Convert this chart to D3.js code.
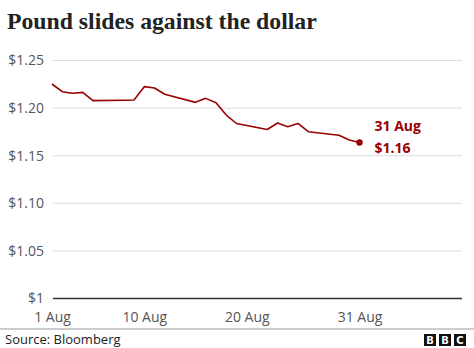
<!DOCTYPE html>
<html><head><meta charset="utf-8">
<script src="https://cdn.jsdelivr.net/npm/d3@7"></script>
<style>body{margin:0;background:#fff}svg{display:block}</style>
</head><body>
<script>
const title = "Pound slides against the dollar";
const dates = ["2022-08-01","2022-08-02","2022-08-03","2022-08-04","2022-08-05","2022-08-08","2022-08-09","2022-08-10","2022-08-11","2022-08-12","2022-08-15","2022-08-16","2022-08-17","2022-08-18","2022-08-19","2022-08-22","2022-08-23","2022-08-24","2022-08-25","2022-08-26","2022-08-29","2022-08-30","2022-08-31"];
const values = [1.2248,1.2167,1.2150,1.2160,1.2073,1.2077,1.2080,1.2220,1.2206,1.2140,1.2055,1.2097,1.2050,1.1922,1.1833,1.1770,1.1838,1.1800,1.1833,1.1747,1.1710,1.1660,1.1633];
const yTicks = [1.00,1.05,1.10,1.15,1.20,1.25];
const xTickDates = ["2022-08-01","2022-08-10","2022-08-20","2022-08-31"];
const xTickLabels = ["1 Aug","10 Aug","20 Aug","31 Aug"];
const endLabel = ["31 Aug","$1.16"];
const source = "Source: Bloomberg";

const W=474,H=348;
const parse=d3.timeParse("%Y-%m-%d");
const data=dates.map((d,i)=>({date:parse(d),value:values[i]}));
const svg=d3.select("body").append("svg").attr("width",W).attr("height",H);

const x=d3.scaleTime().domain([parse("2022-08-01"),parse("2022-09-10")]).range([52,462]);
const y=d3.scaleLinear().domain([1.0,1.25]).range([298,60]);

const tt=svg.append("text").attr("x",7).attr("y",29).text(title)
  .attr("font-family","'Liberation Serif', serif").attr("font-weight","bold").attr("font-size",23).attr("fill","#222");
const tw=tt.node().getComputedTextLength();
if(tw>0) tt.attr("font-size",23*310/tw);

// grid
const yAxis=d3.axisLeft(y).tickValues(yTicks).tickSize(-(462-53)).tickFormat(d=>d===1?"$1":"$"+d3.format(".2f")(d));
const gy=svg.append("g").attr("transform","translate(53,0)").call(yAxis);
gy.select(".domain").remove();
gy.selectAll(".tick line").attr("stroke","#dcdcdc").attr("stroke-width",1);
gy.selectAll(".tick text").attr("x",-9).attr("dy","0.35em").attr("font-family","'Open Sans', sans-serif").attr("font-size",14).attr("fill","#555");
gy.selectAll(".tick").filter(d=>d===1).select("line").attr("stroke","#333").attr("stroke-width",1.6);

const xAxis=d3.axisBottom(x).tickValues(xTickDates.map(parse)).tickSize(0).tickFormat((d,i)=>xTickLabels[i]);
const gx=svg.append("g").attr("transform","translate(0,298)").call(xAxis);
gx.select(".domain").remove();
gx.selectAll(".tick text").attr("y",14).attr("dy","0.71em").attr("font-family","'Open Sans', sans-serif").attr("font-size",14).attr("fill","#555");

const line=d3.line().x(d=>x(d.date)).y(d=>y(d.value));
svg.append("path").datum(data).attr("d",line).attr("fill","none").attr("stroke","#990000").attr("stroke-width",1.6).attr("stroke-linejoin","round");
const last=data[data.length-1];
svg.append("circle").attr("cx",x(last.date)).attr("cy",y(last.value)).attr("r",3.2).attr("fill","#990000");
endLabel.forEach((t,i)=>{
  svg.append("text").attr("x",x(last.date)+15).attr("y",y(last.value)-12+i*22).text(t)
    .attr("font-family","'Open Sans', sans-serif").attr("font-weight","bold").attr("font-size",14).attr("fill","#990000");
});

// footer
svg.append("line").attr("x1",0).attr("x2",W).attr("y1",329).attr("y2",329).attr("stroke","#999").attr("stroke-width",1);
svg.append("text").attr("x",5).attr("y",344).text(source).attr("font-family","'Open Sans', sans-serif").attr("font-size",13).attr("fill","#222");
["B","B","C"].forEach((c,i)=>{
  const bx=424+i*15;
  svg.append("rect").attr("x",bx).attr("y",334).attr("width",12).attr("height",12).attr("fill","#111");
  svg.append("text").attr("x",bx+6).attr("y",344).attr("text-anchor","middle").text(c)
    .attr("font-family","'DejaVu Sans', sans-serif").attr("font-weight","bold").attr("font-size",10).attr("fill","#fff");
});
</script>
</body></html>
